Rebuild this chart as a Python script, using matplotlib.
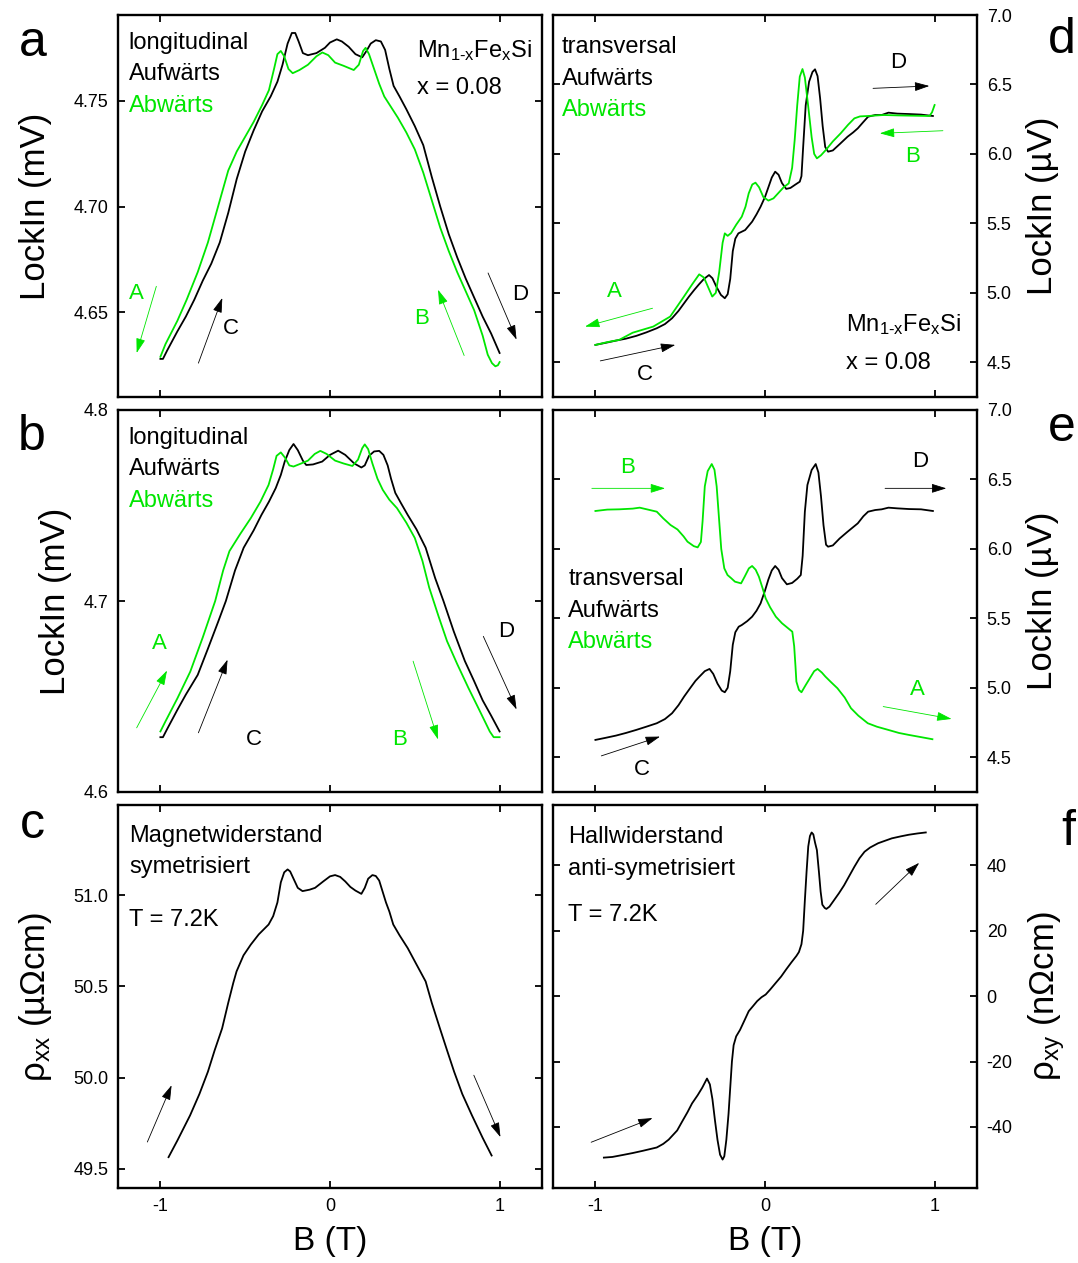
import matplotlib
matplotlib.use("Agg")
import matplotlib.pyplot as plt

plt.rcParams['font.family'] = ['Liberation Sans', 'DejaVu Sans']
plt.rcParams['mathtext.fontset'] = 'custom'
plt.rcParams['mathtext.rm'] = 'Liberation Sans'
plt.rcParams['mathtext.it'] = 'Liberation Sans'
plt.rcParams['axes.unicode_minus'] = False

GREEN = '#00e600'
BLACK = 'black'

# --- a: longitudinal, LockIn (mV) ---
a_up_B = [-1.0, -0.985, -0.96, -0.9, -0.85, -0.8, -0.75, -0.7, -0.65, -0.6, -0.55, -0.5, -0.45, -0.4,
          -0.35, -0.31, -0.28, -0.25, -0.225, -0.205, -0.185, -0.16, -0.13, -0.08, -0.03, 0.0, 0.04, 0.07,
          0.11, 0.15, 0.19, 0.215, 0.24, 0.27, 0.3, 0.325, 0.35, 0.375, 0.41, 0.45, 0.5, 0.55, 0.6, 0.65,
          0.7, 0.75, 0.8, 0.85, 0.9, 0.95, 1.0]
a_up_V = [4.628, 4.628, 4.632, 4.641, 4.648, 4.656, 4.665, 4.673, 4.683, 4.697, 4.713, 4.726, 4.736, 4.745,
          4.752, 4.759, 4.767, 4.777, 4.782, 4.782, 4.778, 4.7725, 4.7715, 4.7725, 4.775, 4.7775, 4.779, 4.778,
          4.7755, 4.772, 4.7705, 4.7735, 4.777, 4.7786, 4.778, 4.774, 4.765, 4.757, 4.752, 4.746, 4.738, 4.729,
          4.714, 4.700, 4.687, 4.676, 4.666, 4.657, 4.648, 4.640, 4.6308]
a_dn_B = [-1.0, -0.97, -0.9, -0.845, -0.78, -0.72, -0.66, -0.6, -0.55, -0.5, -0.45, -0.4, -0.36, -0.33,
          -0.31, -0.29, -0.27, -0.245, -0.22, -0.18, -0.13, -0.08, -0.045, -0.01, 0.03, 0.08, 0.14, 0.17,
          0.195, 0.21, 0.23, 0.26, 0.29, 0.32, 0.36, 0.4, 0.45, 0.5, 0.55, 0.6, 0.65, 0.7, 0.75, 0.8, 0.85,
          0.9, 0.93, 0.955, 0.975, 0.99, 1.0]
a_dn_V = [4.629, 4.635, 4.646, 4.656, 4.669, 4.683, 4.700, 4.717, 4.726, 4.733, 4.740, 4.748, 4.755, 4.765,
          4.772, 4.7735, 4.771, 4.765, 4.763, 4.7645, 4.767, 4.771, 4.7728, 4.7715, 4.768, 4.7665, 4.7645, 4.767,
          4.7735, 4.775, 4.772, 4.765, 4.758, 4.752, 4.747, 4.742, 4.735, 4.727, 4.716, 4.703, 4.690, 4.679,
          4.669, 4.660, 4.651, 4.639, 4.630, 4.626, 4.6245, 4.625, 4.6265]

# --- b: longitudinal, second sweep ---
b_up_B = [-1.0, -0.985, -0.96, -0.9, -0.85, -0.78, -0.72, -0.66, -0.614, -0.56, -0.509, -0.45, -0.404,
          -0.36, -0.32, -0.29, -0.267, -0.24, -0.215, -0.19, -0.16, -0.14, -0.1, -0.046, 0.0, 0.048, 0.09,
          0.143, 0.185, 0.205, 0.23, 0.26, 0.29, 0.315, 0.34, 0.36, 0.385, 0.42, 0.458, 0.51, 0.564, 0.62,
          0.669, 0.73, 0.795, 0.85, 0.9, 0.95, 1.0]
b_up_V = [4.6287, 4.6287, 4.633, 4.643, 4.651, 4.6613, 4.675, 4.689, 4.700, 4.716, 4.7279, 4.737, 4.7451,
          4.752, 4.7591, 4.766, 4.773, 4.779, 4.7822, 4.779, 4.7735, 4.7712, 4.7715, 4.773, 4.7765, 4.7787,
          4.7765, 4.772, 4.7699, 4.771, 4.776, 4.7783, 4.7786, 4.7765, 4.771, 4.764, 4.7566, 4.751, 4.7451,
          4.7375, 4.7279, 4.712, 4.700, 4.684, 4.6686, 4.658, 4.648, 4.640, 4.6317]
b_dn_B = [-1.0, -0.97, -0.9, -0.824, -0.75, -0.677, -0.63, -0.593, -0.53, -0.467, -0.41, -0.362, -0.335,
          -0.315, -0.29, -0.265, -0.24, -0.215, -0.17, -0.13, -0.09, -0.057, -0.02, 0.03, 0.08, 0.132, 0.165,
          0.19, 0.205, 0.225, 0.25, 0.28, 0.311, 0.35, 0.395, 0.45, 0.5, 0.545, 0.585, 0.64, 0.69, 0.75,
          0.816, 0.88, 0.942, 0.965, 1.0]
b_dn_V = [4.6317, 4.637, 4.649, 4.663, 4.681, 4.700, 4.716, 4.7261, 4.735, 4.7434, 4.752, 4.7608, 4.769,
          4.776, 4.7778, 4.775, 4.771, 4.7704, 4.772, 4.7735, 4.777, 4.7786, 4.777, 4.7735, 4.772, 4.7707,
          4.774, 4.780, 4.782, 4.7795, 4.772, 4.764, 4.7582, 4.753, 4.7486, 4.741, 4.733, 4.721, 4.707, 4.692,
          4.679, 4.667, 4.6545, 4.643, 4.6317, 4.6287, 4.6287]

# --- c: rho_xx, symmetrised ---
c_B = [-0.952, -0.9, -0.825, -0.77, -0.72, -0.68, -0.636, -0.6, -0.57, -0.551, -0.51, -0.467, -0.42,
       -0.362, -0.335, -0.31, -0.29, -0.27, -0.25, -0.235, -0.215, -0.19, -0.162, -0.12, -0.088, -0.04,
       0.0, 0.03, 0.06, 0.09, 0.12, 0.15, 0.185, 0.205, 0.225, 0.25, 0.27, 0.29, 0.31, 0.33, 0.35, 0.373,
       0.41, 0.458, 0.51, 0.564, 0.6, 0.648, 0.69, 0.732, 0.78, 0.837, 0.9, 0.953]
c_R = [49.564, 49.655, 49.793, 49.91, 50.032, 50.15, 50.270, 50.41, 50.52, 50.582, 50.67, 50.729, 50.785,
       50.839, 50.885, 50.96, 51.07, 51.125, 51.141, 51.13, 51.09, 51.04, 51.022, 51.03, 51.040, 51.075,
       51.103, 51.110, 51.10, 51.075, 51.045, 51.025, 51.007, 51.04, 51.09, 51.11, 51.105, 51.08, 51.02,
       50.96, 50.91, 50.839, 50.78, 50.710, 50.62, 50.527, 50.41, 50.270, 50.15, 50.032, 49.91, 49.793,
       49.67, 49.573]

# --- d: transversal, LockIn (uV) ---
d_up_B = [-1.0, -0.94, -0.879, -0.82, -0.759, -0.70, -0.638, -0.59, -0.548, -0.51, -0.477, -0.447, -0.417,
          -0.39, -0.36, -0.33, -0.31, -0.287, -0.26, -0.237, -0.22, -0.205, -0.19, -0.175, -0.157, -0.117,
          -0.076, -0.05, -0.026, 0.0, 0.02, 0.04, 0.06, 0.08, 0.10, 0.125, 0.15, 0.18, 0.205, 0.215, 0.225,
          0.24, 0.26, 0.28, 0.295, 0.31, 0.325, 0.34, 0.355, 0.372, 0.40, 0.44, 0.487, 0.52, 0.547, 0.58,
          0.608, 0.65, 0.688, 0.728, 0.78, 0.849, 0.92, 0.990]
d_up_V = [4.625, 4.640, 4.656, 4.67, 4.690, 4.715, 4.745, 4.775, 4.817, 4.87, 4.925, 4.975, 5.021,
          5.06, 5.10, 5.128, 5.105, 5.045, 4.985, 4.961, 4.99, 5.10, 5.30, 5.39, 5.428, 5.452,
          5.512, 5.565, 5.620, 5.69, 5.76, 5.83, 5.872, 5.85, 5.79, 5.748, 5.755, 5.78, 5.80, 5.84, 6.05,
          6.35, 6.52, 6.59, 6.609, 6.56, 6.40, 6.20, 6.05, 6.016, 6.025, 6.07, 6.124, 6.155, 6.184, 6.23,
          6.268, 6.280, 6.280, 6.297, 6.29, 6.287, 6.283, 6.273]
d_dn_B = [-1.0, -0.93, -0.86, -0.78, -0.659, -0.559, -0.478, -0.43, -0.388, -0.36, -0.335, -0.311, -0.29,
          -0.27, -0.25, -0.237, -0.22, -0.2, -0.17, -0.137, -0.115, -0.096, -0.075, -0.056, -0.035, -0.01,
          0.02, 0.05, 0.08, 0.11, 0.14, 0.16, 0.175, 0.19, 0.205, 0.221, 0.235, 0.255, 0.275, 0.29, 0.306,
          0.33, 0.36, 0.40, 0.446, 0.49, 0.527, 0.56, 0.608, 0.7, 0.79, 0.88, 0.97, 0.985, 1.0]
d_dn_V = [4.625, 4.645, 4.661, 4.713, 4.757, 4.829, 4.973, 5.06, 5.133, 5.11, 5.04, 4.973, 5.0,
          5.15, 5.36, 5.428, 5.41, 5.43, 5.49, 5.548, 5.62, 5.716, 5.78, 5.793, 5.76, 5.69,
          5.664, 5.68, 5.72, 5.76, 5.788, 5.90, 6.100, 6.35, 6.556, 6.611, 6.55, 6.340, 6.12, 6.00, 5.968,
          5.99, 6.03, 6.09, 6.148, 6.21, 6.256, 6.27, 6.273, 6.280, 6.277, 6.275, 6.273, 6.30, 6.352]

# --- e: transversal, second sweep ---
e_up_B = [-1.0, -0.94, -0.879, -0.82, -0.759, -0.70, -0.638, -0.59, -0.548, -0.51, -0.477, -0.44, -0.41,
          -0.387, -0.355, -0.327, -0.305, -0.28, -0.255, -0.237, -0.22, -0.205, -0.19, -0.175, -0.155, -0.137,
          -0.105, -0.076, -0.05, -0.026, 0.0, 0.02, 0.04, 0.06, 0.08, 0.10, 0.129, 0.16, 0.19, 0.211, 0.222,
          0.235, 0.25, 0.275, 0.299, 0.315, 0.33, 0.345, 0.36, 0.372, 0.40, 0.44, 0.487, 0.547, 0.58, 0.608,
          0.65, 0.688, 0.728, 0.78, 0.849, 0.92, 0.990]
e_up_V = [4.625, 4.640, 4.656, 4.675, 4.697, 4.72, 4.745, 4.775, 4.817, 4.875, 4.937, 5.00, 5.05,
          5.080, 5.12, 5.136, 5.10, 5.03, 4.98, 4.968, 5.00, 5.12, 5.31, 5.40, 5.44, 5.452,
          5.48, 5.512, 5.555, 5.608, 5.70, 5.78, 5.845, 5.877, 5.85, 5.79, 5.745, 5.755, 5.785, 5.812, 5.95,
          6.268, 6.46, 6.568, 6.611, 6.55, 6.38, 6.17, 6.03, 6.016, 6.025, 6.075, 6.124, 6.184, 6.235, 6.268,
          6.280, 6.285, 6.297, 6.292, 6.287, 6.285, 6.273]
e_dn_B = [-1.0, -0.93, -0.859, -0.78, -0.739, -0.69, -0.638, -0.6, -0.557, -0.516, -0.48, -0.457, -0.42,
          -0.397, -0.378, -0.368, -0.355, -0.338, -0.314, -0.298, -0.285, -0.27, -0.258, -0.24, -0.221, -0.20,
          -0.177, -0.141, -0.12, -0.095, -0.076, -0.055, -0.036, -0.015, 0.004, 0.03, 0.064, 0.10, 0.125,
          0.161, 0.172, 0.18, 0.185, 0.2, 0.215, 0.24, 0.265, 0.29, 0.310, 0.335, 0.356, 0.39, 0.427, 0.47,
          0.507, 0.55, 0.606, 0.66, 0.727, 0.79, 0.848, 0.92, 0.987]
e_dn_V = [6.273, 6.283, 6.285, 6.29, 6.297, 6.283, 6.268, 6.22, 6.172, 6.14, 6.09, 6.052, 6.02,
          6.011, 6.05, 6.20, 6.45, 6.56, 6.611, 6.57, 6.45, 6.20, 6.00, 5.86, 5.812, 5.79,
          5.764, 5.752, 5.80, 5.86, 5.877, 5.85, 5.80, 5.72, 5.644, 5.58, 5.512, 5.465, 5.440,
          5.404, 5.30, 5.15, 5.045, 4.985, 4.968, 5.02, 5.07, 5.12, 5.136, 5.11, 5.081, 5.04, 4.997, 4.93,
          4.853, 4.80, 4.745, 4.72, 4.697, 4.675, 4.661, 4.645, 4.630]

# --- f: rho_xy, anti-symmetrised ---
f_B = [-0.950, -0.9, -0.839, -0.78, -0.719, -0.638, -0.6, -0.568, -0.518, -0.49, -0.457, -0.43, -0.397,
       -0.37, -0.342, -0.325, -0.31, -0.295, -0.28, -0.265, -0.25, -0.24, -0.228, -0.215, -0.205, -0.195,
       -0.185, -0.17, -0.147, -0.12, -0.096, -0.07, -0.046, -0.02, 0.004, 0.03, 0.064, 0.095, 0.125, 0.155,
       0.185, 0.2, 0.215, 0.225, 0.235, 0.245, 0.255, 0.265, 0.275, 0.285, 0.295, 0.306, 0.318, 0.328,
       0.338, 0.352, 0.362, 0.38, 0.406, 0.436, 0.466, 0.497, 0.527, 0.557, 0.587, 0.62, 0.667, 0.71,
       0.748, 0.8, 0.848, 0.9, 0.948]
f_R = [-49.4, -49.2, -48.6, -48.0, -47.3, -46.3, -45.2, -43.9, -41.1, -38.5, -35.5, -32.8, -30.3,
       -28.0, -25.2, -27.0, -31.5, -38.0, -44.0, -48.5, -50.0, -49.0, -44.0, -36.0, -28.0, -20.0,
       -15.0, -12.3, -10.3, -7.3, -4.6, -3.0, -1.5, -0.3, 0.5, 2.0, 4.1, 6.0, 8.2, 10.3,
       12.3, 13.5, 15.9, 20.0, 29.3, 38.0, 45.8, 49.0, 50.1, 49.5, 47.0, 44.7, 38.0, 32.0,
       28.0, 27.0, 26.7, 27.4, 29.3, 31.5, 33.9, 36.8, 39.6, 42.2, 44.2, 45.5, 46.8, 47.6,
       48.3, 48.9, 49.4, 49.8, 50.1]

B_ticks = [-1, 0, 1]
a_ticks = [4.65, 4.70, 4.75]
b_ticks = [4.6, 4.7, 4.8]
c_ticks = [49.5, 50.0, 50.5, 51.0]
de_ticks = [4.5, 5.0, 5.5, 6.0, 6.5, 7.0]
f_ticks = [-40, -20, 0, 20, 40]

fig = plt.figure(figsize=(10.78, 12.63), dpi=100)
W, H = 1078, 1263


def make_ax(x0, y0, x1, y1):
    return fig.add_axes([x0 / W, 1 - y1 / H, (x1 - x0) / W, (y1 - y0) / H])


ax_a = make_ax(118, 15, 542, 397)
ax_b = make_ax(118, 410, 542, 792)
ax_c = make_ax(118, 805, 542, 1188)
ax_d = make_ax(553, 15, 977, 397)
ax_e = make_ax(553, 410, 977, 792)
ax_f = make_ax(553, 805, 977, 1188)

for ax in [ax_a, ax_b, ax_c, ax_d, ax_e, ax_f]:
    ax.set_xlim(-1.25, 1.25)
    ax.set_xticks(B_ticks)
    ax.set_xticklabels(['-1', '0', '1'])
    for s in ax.spines.values():
        s.set_linewidth(1.7)
    ax.tick_params(direction='in', length=5, width=1.3, top=True, bottom=True, left=True, right=True,
                   labelsize=13, pad=7)

for ax in [ax_a, ax_b, ax_d, ax_e]:
    ax.tick_params(labelbottom=False)
for ax in [ax_d, ax_e, ax_f]:
    ax.tick_params(labelleft=False, labelright=True)
    ax.yaxis.set_label_position('right')

lw = 1.3
ax_a.plot(a_up_B, a_up_V, color=BLACK, lw=lw)
ax_a.plot(a_dn_B, a_dn_V, color=GREEN, lw=lw)
ax_a.set_ylim(4.61, 4.7905)
ax_a.set_yticks(a_ticks)
ax_a.set_yticklabels(['4.65', '4.70', '4.75'])

ax_b.plot(b_up_B, b_up_V, color=BLACK, lw=lw)
ax_b.plot(b_dn_B, b_dn_V, color=GREEN, lw=lw)
ax_b.set_ylim(4.6, 4.8)
ax_b.set_yticks(b_ticks)
ax_b.set_yticklabels(['4.6', '4.7', '4.8'])

ax_c.plot(c_B, c_R, color=BLACK, lw=lw)
ax_c.set_ylim(49.395, 51.494)
ax_c.set_yticks(c_ticks)
ax_c.set_yticklabels(['49.5', '50.0', '50.5', '51.0'])

ax_d.plot(d_up_B, d_up_V, color=BLACK, lw=lw)
ax_d.plot(d_dn_B, d_dn_V, color=GREEN, lw=lw)
ax_e.plot(e_up_B, e_up_V, color=BLACK, lw=lw)
ax_e.plot(e_dn_B, e_dn_V, color=GREEN, lw=lw)
for ax in [ax_d, ax_e]:
    ax.set_ylim(4.25, 7.0)
    ax.set_yticks(de_ticks)
    ax.set_yticklabels(['4.5', '5.0', '5.5', '6.0', '6.5', '7.0'])

ax_f.plot(f_B, f_R, color=BLACK, lw=lw)
ax_f.set_ylim(-58.7, 58.5)
ax_f.set_yticks(f_ticks)

lab = 25
ax_a.set_ylabel('LockIn (mV)', fontsize=lab, labelpad=15)
ax_b.set_ylabel('LockIn (mV)', fontsize=lab, labelpad=8)
ax_c.set_ylabel(r'ρ$_{\mathregular{xx}}$ (µΩcm)', fontsize=lab, labelpad=14)
ax_d.set_ylabel('LockIn (µV)', fontsize=lab, labelpad=10)
ax_e.set_ylabel('LockIn (µV)', fontsize=lab, labelpad=10)
ax_f.set_ylabel(r'ρ$_{\mathregular{xy}}$ (nΩcm)', fontsize=lab, labelpad=10)
ax_c.set_xlabel('B (T)', fontsize=24, labelpad=8)
ax_f.set_xlabel('B (T)', fontsize=24, labelpad=8)

txt = 17
sub = r'Mn$_{\mathregular{1\text{-}x}}$Fe$_{\mathregular{x}}$Si'


def block(ax, x, ys, lines, colors):
    for y, s, c in zip(ys, lines, colors):
        ax.text(x, y, s, transform=ax.transAxes, fontsize=txt, color=c, va='center', ha='left')


block(ax_a, 0.025, [0.926, 0.846, 0.762], ['longitudinal', 'Aufwärts', 'Abwärts'], [BLACK, BLACK, GREEN])
block(ax_a, 0.705, [0.908, 0.808], [sub, 'x = 0.08'], [BLACK, BLACK])
block(ax_b, 0.025, [0.926, 0.846, 0.762], ['longitudinal', 'Aufwärts', 'Abwärts'], [BLACK, BLACK, GREEN])
block(ax_c, 0.027, [0.919, 0.838, 0.70], ['Magnetwiderstand', 'symetrisiert', 'T = 7.2K'], [BLACK] * 3)
block(ax_d, 0.02, [0.917, 0.832, 0.752], ['transversal', 'Aufwärts', 'Abwärts'], [BLACK, BLACK, GREEN])
block(ax_d, 0.69, [0.189, 0.089], [sub, 'x = 0.08'], [BLACK, BLACK])
block(ax_e, 0.036, [0.558, 0.473, 0.392], ['transversal', 'Aufwärts', 'Abwärts'], [BLACK, BLACK, GREEN])
block(ax_f, 0.036, [0.917, 0.833, 0.713], ['Hallwiderstand', 'anti-symetrisiert', 'T = 7.2K'], [BLACK] * 3)


def arrow(ax, tail, head, color):
    ax.annotate('', xy=head, xytext=tail,
                arrowprops=dict(arrowstyle='-|>,head_length=0.9,head_width=0.28', color=color,
                                lw=0.6, mutation_scale=10, shrinkA=0, shrinkB=0),
                annotation_clip=False)


def mark(ax, pos, s, color):
    ax.text(pos[0], pos[1], s, fontsize=16, color=color, ha='center', va='center')


# sweep direction markers
mark(ax_a, (-1.14, 4.659), 'A', GREEN)
arrow(ax_a, (-1.024, 4.6623), (-1.14, 4.6308), GREEN)
mark(ax_a, (-0.583, 4.6426), 'C', BLACK)
arrow(ax_a, (-0.776, 4.626), (-0.635, 4.6568), BLACK)
mark(ax_a, (0.538, 4.6473), 'B', GREEN)
arrow(ax_a, (0.791, 4.6296), (0.637, 4.6607), GREEN)
mark(ax_a, (1.121, 4.6583), 'D', BLACK)
arrow(ax_a, (0.932, 4.6686), (1.10, 4.6371), BLACK)

mark(ax_b, (-1.007, 4.678), 'A', GREEN)
arrow(ax_b, (-1.14, 4.6336), (-0.961, 4.6636), GREEN)
mark(ax_b, (-0.45, 4.6275), 'C', BLACK)
arrow(ax_b, (-0.776, 4.631), (-0.604, 4.6693), BLACK)
mark(ax_b, (0.412, 4.6275), 'B', GREEN)
arrow(ax_b, (0.49, 4.6685), (0.637, 4.6275), GREEN)
mark(ax_b, (1.037, 4.6841), 'D', BLACK)
arrow(ax_b, (0.904, 4.6815), (1.10, 4.6432), BLACK)

arrow(ax_c, (-1.077, 49.647), (-0.934, 49.958), BLACK)
arrow(ax_c, (0.848, 50.013), (1.005, 49.674), BLACK)

mark(ax_d, (-0.89, 5.009), 'A', GREEN)
arrow(ax_d, (-0.663, 4.889), (-1.061, 4.757), GREEN)
mark(ax_d, (-0.709, 4.409), 'C', BLACK)
arrow(ax_d, (-0.971, 4.51), (-0.529, 4.625), BLACK)
mark(ax_d, (0.788, 6.657), 'D', BLACK)
arrow(ax_d, (0.637, 6.472), (0.969, 6.489), BLACK)
mark(ax_d, (0.872, 5.98), 'B', GREEN)
arrow(ax_d, (1.049, 6.167), (0.677, 6.148), GREEN)

mark(ax_e, (-0.81, 6.585), 'B', GREEN)
arrow(ax_e, (-1.021, 6.436), (-0.589, 6.436), GREEN)
mark(ax_e, (0.913, 6.628), 'D', BLACK)
arrow(ax_e, (0.708, 6.436), (1.069, 6.436), BLACK)
mark(ax_e, (0.898, 4.985), 'A', GREEN)
arrow(ax_e, (0.697, 4.865), (1.10, 4.776), GREEN)
mark(ax_e, (-0.724, 4.409), 'C', BLACK)
arrow(ax_e, (-0.965, 4.51), (-0.619, 4.649), BLACK)

arrow(ax_f, (-1.025, -44.7), (-0.663, -37.3), BLACK)
arrow(ax_f, (0.653, 28.1), (0.909, 40.8), BLACK)

# panel letters
for s, (x, y) in zip('abcdef', [(33, 43), (32, 437), (32, 825), (1062, 40), (1062, 428), (1068, 832)]):
    fig.text(x / W, 1 - y / H, s, fontsize=36, ha='center', va='center')

fig.savefig('out.png', dpi=100)
